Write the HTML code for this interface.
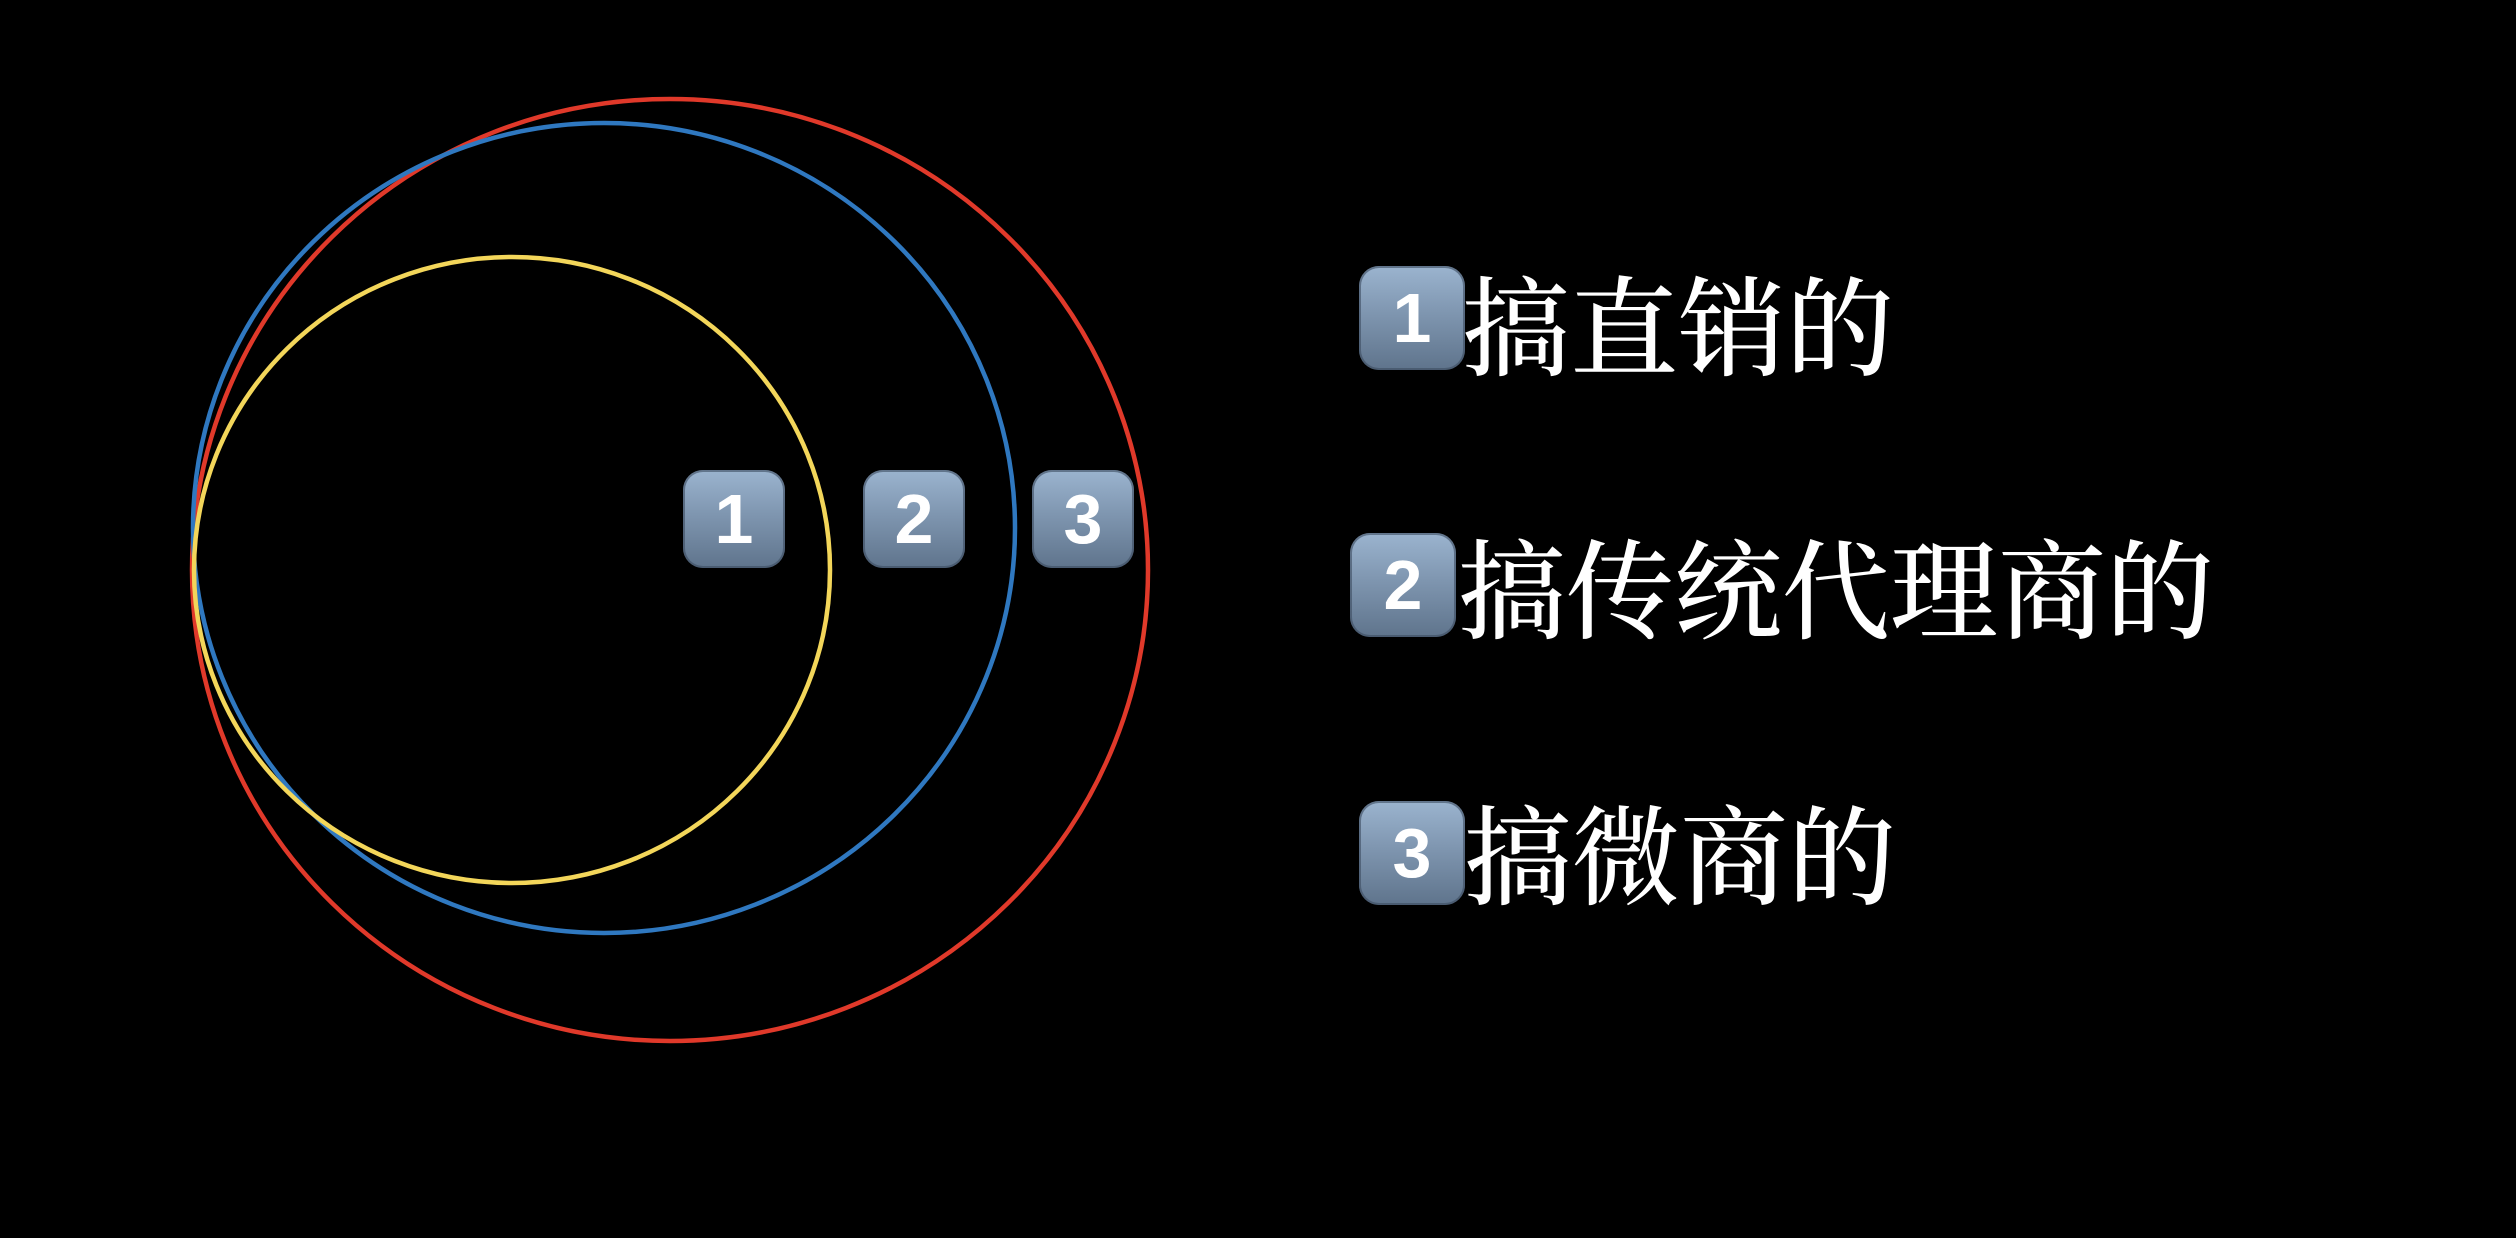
<!DOCTYPE html>
<html><head><meta charset="utf-8"><style>
html,body{margin:0;padding:0;background:#000;width:2516px;height:1238px;overflow:hidden;position:relative}
.b{position:absolute;width:102px;height:98px;border-radius:20px;background:linear-gradient(#9bb4cf,#7f96b0 45%,#5f748c);box-shadow:inset 0 0 0 2px rgba(60,75,95,.6);color:#fff;font:bold 70px "Liberation Sans",sans-serif;text-align:center;line-height:98px}
.t{position:absolute;color:#fff;font:500 108px/1 "Liberation Serif","Noto Serif CJK SC",serif;white-space:nowrap;letter-spacing:0px}
</style></head><body>
<svg width="2516" height="1238" style="position:absolute;left:0;top:0">
<ellipse cx="670" cy="570" rx="478" ry="471" fill="none" stroke="#e0392a" stroke-width="4.5"/>
<ellipse cx="604" cy="528" rx="411" ry="405" fill="none" stroke="#2f78c0" stroke-width="4.5"/>
<ellipse cx="512" cy="570" rx="318" ry="313" fill="none" stroke="#f3d65a" stroke-width="4.5"/>
</svg>
<div class="b" style="left:683px;top:470px">1</div>
<div class="b" style="left:863px;top:470px">2</div>
<div class="b" style="left:1032px;top:470px">3</div>
<div class="b" style="left:1359px;top:266px;width:106px;height:104px;line-height:104px">1</div>
<div class="t" style="left:1462px;top:278px">搞直销的</div>
<div class="b" style="left:1350px;top:533px;width:106px;height:104px;line-height:104px">2</div>
<div class="t" style="left:1458px;top:541px">搞传统代理商的</div>
<div class="b" style="left:1359px;top:801px;width:106px;height:104px;line-height:104px">3</div>
<div class="t" style="left:1464px;top:807px">搞微商的</div>
</body></html>
